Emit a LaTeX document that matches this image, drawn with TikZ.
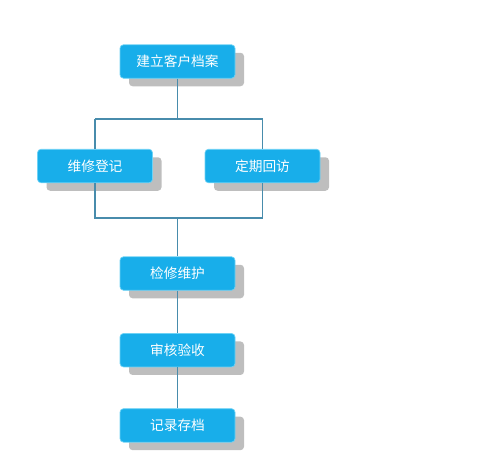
\documentclass[tikz,border=0pt]{standalone}
\usepackage{fontspec}
\newfontfamily\cjk{Noto Sans CJK SC}
\usepackage{xcolor}
\usepackage{tikz}
\usetikzlibrary{shadows}
\usetikzlibrary{positioning}

\definecolor{boxblue}{RGB}{24,174,234}
\definecolor{boxrim}{RGB}{110,210,245}
\definecolor{shade}{RGB}{190,190,190}
\definecolor{linkblue}{RGB}{72,140,172}

\begin{document}
\begin{tikzpicture}[
	stepbox/.style={rectangle,rounded corners=2pt,draw=boxrim,line width=0.4pt,fill=boxblue,
		minimum width=2.3cm,minimum height=0.67cm,text=white,font=\cjk\fontsize{7.8}{9}\selectfont,
		drop shadow={shadow xshift=0.18cm,shadow yshift=-0.16cm,fill=shade,opacity=1}},
	link/.style={draw=linkblue,line width=0.6pt}]
	
	\useasboundingbox (0,0) rectangle (10,-9.38);
	
	% top box
	\node[stepbox] (file) at (3.55,-1.23) {建立客户档案};
	
	% two branches
	\node[stepbox] (reg) at (1.9,-3.32) {维修登记};
	\node[stepbox] (visit) at (5.25,-3.32) {定期回访};
	
	% chain below
	\node[stepbox] (fix) at (3.55,-5.47) {检修维护};
	\node[stepbox] (check) [below=0.85cm of fix] {审核验收};
	\node[stepbox] (keep) [below=0.82cm of check] {记录存档};
	
	% bus points
	\coordinate (upL) at (1.9,-2.38);
	\coordinate (upR) at (5.25,-2.38);
	\coordinate (loL) at (1.9,-4.36);
	\coordinate (loR) at (5.25,-4.36);
	
	% upper split
	\draw[link] (file) -- (file |- upL);
	\draw[link] (upL) -- (upR);
	\draw[link] (upL) -- (reg);
	\draw[link] (upR) -- (visit);
	
	% lower join
	\draw[link] (reg) -- (loL) -- (loR) -- (visit);
	\draw[link] (fix |- loL) -- (fix);
	
	% chain
	\draw[link] (fix) -- (check);
	\draw[link] (check) -- (keep);
	
\end{tikzpicture}
\end{document}
